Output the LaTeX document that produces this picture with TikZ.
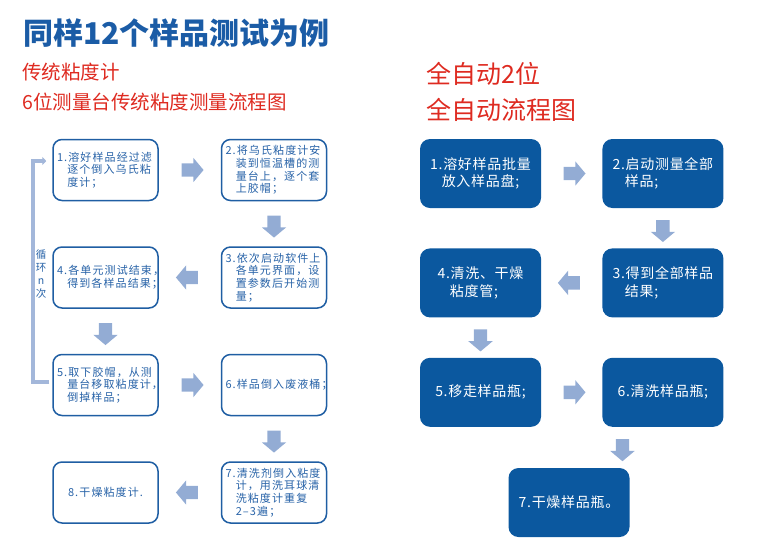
\documentclass[tikz,border=0pt]{standalone}
\usepackage{fontspec}
\setmainfont{Noto Sans CJK SC}
\newfontfamily\boxfont[LetterSpace=10]{Noto Sans CJK SC}
\newfontfamily\autofont[LetterSpace=5]{Noto Sans CJK SC}
\usepackage{tikz}
\usetikzlibrary{positioning, arrows.meta, calc, shapes.arrows}
\definecolor{headblue}{HTML}{1B5CA6}
\definecolor{headred}{HTML}{DE2A20}
\definecolor{tradblue}{HTML}{1F5EA3}
\definecolor{tradtext}{HTML}{2863A8}
\definecolor{autoblue}{HTML}{0B589F}
\definecolor{arrowblue}{HTML}{93ACD4}
\definecolor{loopblue}{HTML}{A3B7DA}
\newcommand{\numgap}{\phantom{1.}}

\begin{document}
\begin{tikzpicture}[
  x=1pt, y=-1pt,
  headline/.style={anchor=west, inner sep=0pt, text=headblue, font=\fontsize{30}{30}\selectfont\bfseries},
  subline/.style={anchor=west, inner sep=0pt, text=headred, font=\fontsize{19.5}{19.5}\selectfont},
  autoline/.style={anchor=west, inner sep=0pt, text=headred, font=\fontsize{25}{25}\selectfont},
  tradbox/.style={rectangle, rounded corners=9pt, draw=tradblue, line width=1.5pt, fill=white,
                  minimum width=105pt, minimum height=61pt, text width=97pt, align=left,
                  inner xsep=4pt, inner ysep=2pt, text=tradtext,
                  font=\boxfont\fontsize{11}{12.7}\selectfont},
  autobox/.style={rectangle, rounded corners=10pt, fill=autoblue, minimum width=121pt,
                  minimum height=69pt, align=left, inner sep=2pt, text=white,
                  font=\autofont\fontsize{14}{17.5}\selectfont},
  barrow/.style={single arrow, fill=arrowblue, draw=none, minimum height=22pt, inner sep=6.5pt,
                 single arrow head extend=5.5pt, single arrow tip angle=100},
  loopline/.style={line width=3.5pt, loopblue, -{Triangle[length=4pt, width=8pt]}},
  looptext/.style={align=center, inner sep=0pt, text=tradtext, font=\fontsize{10.5}{12.7}\selectfont},
]
\useasboundingbox (0,0) rectangle (758,558);
% --- titles ---
\node[headline] (T) at (23,33) {同样12个样品测试为例};
\node[subline] (S1) at (22,72) {传统粘度计};
\node[subline] (S2) at (22,102) {6位测量台传统粘度测量流程图};
\node[autoline] (A1) at (426,74) {全自动2位};
\node[autoline] (A2) at (426,110) {全自动流程图};
% --- traditional viscometer, 8 steps ---
\node[tradbox] (L1) at (105.5,170) {1.溶好样品经过滤\\\numgap{}逐个倒入乌氏粘\\\numgap{}度计；};
\node[tradbox, right=62pt of L1] (L2) {2.将乌氏粘度计安\\\numgap{}装到恒温槽的测\\\numgap{}量台上，逐个套\\\numgap{}上胶帽；};
\node[tradbox, below=45pt of L2] (L3) {3.依次启动软件上\\\numgap{}各单元界面，设\\\numgap{}置参数后开始测\\\numgap{}量；};
\node[tradbox, left=62pt of L3] (L4) {4.各单元测试结束，\\\numgap{}得到各样品结果；};
\node[tradbox, below=45pt of L4] (L5) {5.取下胶帽，从测\\\numgap{}量台移取粘度计，\\\numgap{}倒掉样品；};
\node[tradbox, right=62pt of L5] (L6) {6.样品倒入废液桶；};
\node[tradbox, below=45pt of L6] (L7) {7.清洗剂倒入粘度\\\numgap{}计，用洗耳球清\\\numgap{}洗粘度计重复\\\numgap{}2–3遍；};
\node[tradbox, left=62pt of L7, align=center] (L8) {8.干燥粘度计.};
\node[barrow] (a12) at ($(L1.east)!0.5!(L2.west)$) {};
\node[barrow, shape border rotate=270] (a23) at ($(L2.south)!0.5!(L3.north)$) {};
\node[barrow, shape border rotate=180] (a34) at ($(L3.west)!0.5!(L4.east)$) {};
\node[barrow, shape border rotate=270] (a45) at ($(L4.south)!0.5!(L5.north)$) {};
\node[barrow] (a56) at ($(L5.east)!0.5!(L6.west)$) {};
\node[barrow, shape border rotate=270] (a67) at ($(L6.south)!0.5!(L7.north)$) {};
\node[barrow, shape border rotate=180] (a78) at ($(L7.west)!0.5!(L8.east)$) {};
% loop back from step 5 to step 1
\coordinate (lb) at ($(L5.west)+(-3,-3)$);
\coordinate (lt) at ($(L1.west)+(-6,-9)$);
\draw[loopline] (lb) -- ++(-16.5,0) |- (lt);
\node[looptext] (N) at (41,274) {循\\环\\n\\次};
% --- automatic, 7 steps ---
\node[autobox, align=center] (R1) at (480.5,173.5) {1.溶好样品批量\\放入样品盘;};
\node[autobox, right=61pt of R1] (R2) {2.启动测量全部\\\numgap{}样品;};
\node[autobox, below=40pt of R2] (R3) {3.得到全部样品\\\numgap{}结果;};
\node[autobox, left=61pt of R3] (R4) {4.清洗、干燥\\\numgap{}粘度管;};
\node[autobox, below=40pt of R4] (R5) {5.移走样品瓶;};
\node[autobox, right=61pt of R5] (R6) {6.清洗样品瓶;};
\node[autobox] (R7) at (569,502.5) {7.干燥样品瓶。};
\node[barrow] (b12) at ($(R1.east)!0.5!(R2.west)$) {};
\node[barrow, shape border rotate=270] (b23) at ($(R2.south)!0.5!(R3.north)$) {};
\node[barrow, shape border rotate=180] (b34) at ($(R3.west)!0.5!(R4.east)$) {};
\node[barrow, shape border rotate=270] (b45) at ($(R4.south)!0.5!(R5.north)$) {};
\node[barrow] (b56) at ($(R5.east)!0.5!(R6.west)$) {};
\node[barrow, shape border rotate=270] (b67) at ($(R6.south)!0.5!(R7.north)+(6.5,0)$) {};
\end{tikzpicture}
\end{document}
